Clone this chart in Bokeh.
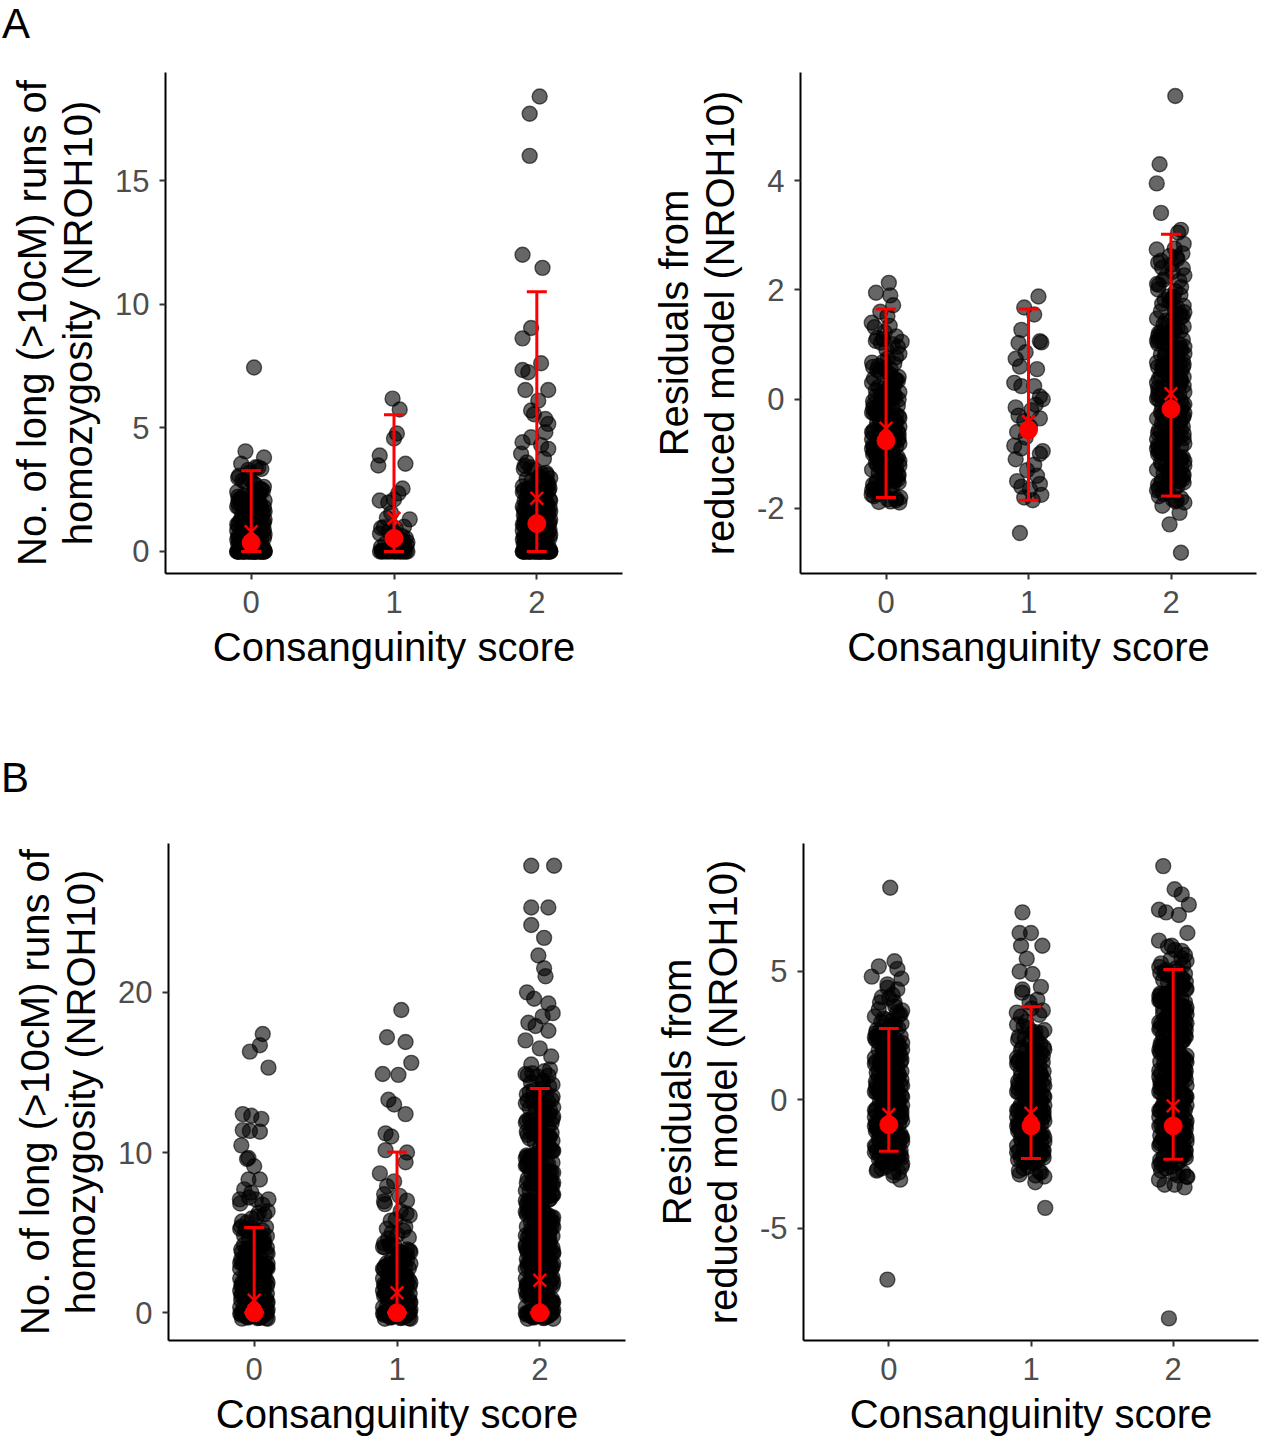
from bokeh.plotting import figure
from bokeh.layouts import row, column
from bokeh.models import Range1d, FixedTicker, PrintfTickFormatter, Div
from bokeh.embed import file_html
from bokeh.resources import INLINE

FONT = "Liberation Sans"
CATS = [0, 1, 2]
X_LABEL = "Consanguinity score"
YLAB_COUNT = "No. of long (>10cM) runs of\nhomozygosity (NROH10)"
YLAB_RESID = "Residuals from\nreduced model (NROH10)"
PANEL_LETTERS = ["A", "B"]

# fixed jitter patterns (like a seeded position_jitter): horizontal offsets in category
# units and within-bin vertical fractions, both reused cyclically
JITTER = [-0.085, 0.032, -0.017, 0.071, -0.052, 0.094, -0.098, 0.012, 0.058, -0.036, 0.083,
          -0.071, 0.003, 0.045, -0.062, 0.026, -0.009, 0.089, -0.044, 0.066, -0.091, 0.018]
FRAC = [0.5, 0.12, 0.81, 0.35, 0.67, 0.04, 0.93, 0.28, 0.59, 0.19, 0.74, 0.44, 0.87,
        0.23, 0.63, 0.08, 0.97]

# ---------------- Panel A, left: NROH10 ----------------
A1_TICKS = [0, 5, 10, 15]
A1_ZEROS = [30, 14, 30]                     # individuals exactly at 0
A1_BINS = (0.0, 0.5, 0.5)                   # first bin, step, bin width
A1_COUNTS = [[28, 26, 24, 22, 16, 8, 4],
             [14, 7],
             [28, 27, 26, 24, 22, 15, 8]]
A1_OUT = [
    [(7.44, 0.02), (4.05, -0.04), (3.8, 0.09), (3.55, -0.07), (3.4, 0.05), (3.3, -0.02)],
    [(6.18, -0.01), (5.74, 0.04), (4.77, 0.02), (4.57, 0.0), (3.88, -0.1), (3.48, -0.11),
     (3.55, 0.08), (2.55, 0.06), (2.35, 0.03), (2.06, -0.1), (1.98, -0.04), (2.1, 0.0),
     (1.55, -0.02), (1.3, 0.11), (1.35, -0.05), (1.0, 0.07), (0.95, -0.09)],
    [(18.4, 0.02), (17.7, -0.05), (16.0, -0.05), (12.0, -0.1), (11.47, 0.04), (9.04, -0.04),
     (8.62, -0.1), (7.61, 0.03), (7.34, -0.1), (7.25, -0.06), (6.53, -0.08), (6.53, 0.08),
     (6.1, 0.01), (5.7, -0.04), (5.36, 0.06), (5.16, 0.08), (4.82, 0.06), (4.62, -0.04),
     (4.42, -0.1), (3.95, -0.11), (4.15, 0.08), (5.55, -0.02), (4.3, 0.03), (3.75, 0.05),
     (3.6, -0.07)],
]
A1_MEAN = [0.8, 1.34, 2.15]
A1_MEDIAN = [0.36, 0.53, 1.13]
A1_LO = [0, 0, 0]
A1_HI = [3.27, 5.53, 10.5]

# ---------------- Panel A, right: residuals ----------------
A2_TICKS = [-2, 0, 2, 4]
A2_ZEROS = [0, 0, 0]
A2_BINS = (-1.9, 0.25, 0.25)
A2_COUNTS = [[8, 16, 18, 19, 19, 19, 18, 16, 13, 10, 7, 5, 3],
             [],
             [8, 15, 17, 17, 17, 17, 17, 17, 17, 16, 15, 14, 12, 10, 8, 7, 6, 5, 3]]
A2_OUT = [
    [(2.13, 0.02), (1.95, -0.07), (1.9, 0.03), (1.72, 0.05), (1.6, -0.04), (1.52, 0.01),
     (1.4, -0.1), (1.32, -0.08), (1.15, 0.07), (1.05, 0.11), (1.1, -0.02), (-1.85, 0.07),
     (-1.88, -0.05), (-1.8, 0.1), (-1.75, -0.1)],
    [(1.88, 0.07), (1.68, -0.03), (1.55, 0.04), (1.27, -0.05), (1.06, 0.08), (1.04, 0.09),
     (1.03, -0.07), (0.86, -0.02), (0.74, -0.09), (0.6, -0.06), (0.3, -0.1), (0.24, -0.05),
     (0.24, 0.04), (0.05, 0.08), (0.0, 0.1), (-0.1, 0.05), (-0.3, -0.07), (-0.35, 0.08),
     (-0.5, 0.01), (-0.6, -0.08), (-0.7, -0.02), (-0.85, -0.1), (-0.9, -0.05), (-1.0, 0.08),
     (-1.2, 0.04), (-1.3, -0.01), (-1.5, -0.08), (-1.55, 0.08), (-1.6, -0.05), (-1.65, 0.01),
     (-1.75, 0.09), (-1.8, -0.03), (-1.85, 0.03), (-2.45, -0.06), (-0.15, -0.09), (0.55, 0.06),
     (-1.1, -0.09), (-0.95, 0.1), (-0.4, -0.03), (-1.4, 0.06), (-0.2, 0.02)],
    [(5.55, 0.03), (4.3, -0.08), (3.95, -0.1), (3.41, -0.07), (3.1, 0.07), (3.05, 0.05),
     (2.74, -0.1), (2.67, 0.08), (2.5, -0.09), (2.6, 0.04), (-2.08, 0.06), (-2.29, -0.01),
     (-2.81, 0.07), (-1.95, -0.06), (-1.85, 0.04)],
]
A2_MEAN = [-0.53, -0.41, 0.10]
A2_MEDIAN = [-0.76, -0.56, -0.18]
A2_LO = [-1.80, -1.85, -1.77]
A2_HI = [1.65, 1.65, 3.02]

# ---------------- Panel B, left: NROH10 (integer counts, vertically jittered) ----------------
B1_TICKS = [0, 10, 20]
B1_ZEROS = [0, 0, 0]
B1_BINS = (-0.4, 1.0, 0.8)
B1_COUNTS = [[36, 30, 27, 24, 21, 15, 7, 4],
             [34, 28, 24, 19, 13, 7, 5, 3],
             [32, 29, 27, 26, 25, 24, 23, 22, 22, 21, 20, 19, 17, 14, 9, 5]]
B1_OUT = [
    [(17.4, 0.06), (16.7, 0.04), (16.3, -0.03), (15.3, 0.1), (12.4, -0.08), (12.3, -0.02),
     (12.1, 0.05), (11.4, -0.08), (11.35, -0.03), (11.3, 0.04), (10.45, -0.09), (9.66, -0.04),
     (9.6, -0.05), (9.15, 0.0), (8.32, -0.04), (8.32, 0.04), (7.7, -0.07), (7.08, 0.1),
     (7.08, -0.1), (7.5, -0.02)],
    [(18.9, 0.03), (17.2, -0.07), (16.9, 0.06), (15.6, 0.1), (14.9, -0.1), (14.85, 0.01),
     (13.3, -0.06), (13.0, -0.02), (12.4, 0.06), (11.2, -0.08), (11.0, -0.04), (10.15, -0.08),
     (10.0, 0.07), (9.4, 0.06), (8.7, -0.12), (7.9, -0.07), (7.0, 0.07), (8.2, -0.02),
     (7.4, -0.09)],
    [(27.9, -0.06), (27.9, 0.1), (25.3, -0.06), (25.3, 0.06), (24.2, -0.06), (23.4, 0.03),
     (22.3, -0.01), (21.5, 0.03), (21.0, 0.04), (20.0, -0.09), (19.6, -0.04), (19.3, 0.06),
     (18.7, 0.09), (18.5, 0.02), (18.1, -0.08), (17.9, -0.03), (17.6, 0.06), (17.0, -0.1),
     (16.5, 0.0), (16.0, 0.08), (15.5, -0.06), (14.9, -0.1), (14.8, 0.06), (14.5, 0.02),
     (13.8, -0.07), (13.5, 0.09)],
]
B1_MEAN = [0.78, 1.25, 2.03]
B1_MEDIAN = [0, 0, 0]
B1_LO = [0, 0, 0]
B1_HI = [5.32, 10.03, 14.0]

# ---------------- Panel B, right: residuals ----------------
B2_TICKS = [-5, 0, 5]
B2_ZEROS = [0, 0, 0]
B2_BINS = (-3.0, 0.5, 0.5)
B2_COUNTS = [[5, 15, 19, 20, 20, 20, 20, 19, 18, 17, 15, 12, 9, 4, 2, 1],
             [6, 16, 19, 20, 20, 20, 19, 18, 16, 13, 10, 7, 4, 2, 1],
             [8, 17, 20, 20, 20, 20, 20, 20, 20, 19, 19, 18, 18, 17, 16, 13, 8, 4]]
B2_OUT = [
    [(8.26, 0.01), (-6.99, -0.01), (5.4, 0.04), (5.2, -0.07), (5.1, 0.06), (4.8, -0.12),
     (4.5, -0.01), (4.3, 0.06), (4.0, -0.05), (3.8, 0.04), (-2.7, -0.08), (-3.1, 0.08),
     (-2.6, 0.09), (-2.8, 0.03)],
    [(7.3, -0.06), (6.5, -0.08), (6.5, 0.0), (6.0, -0.07), (6.0, 0.08), (5.5, -0.03),
     (5.0, -0.08), (4.9, 0.01), (4.3, -0.06), (4.4, 0.07), (3.8, -0.01), (3.4, -0.1),
     (-3.2, 0.03), (-4.2, 0.1), (-2.9, -0.08), (-2.8, 0.06)],
    [(9.1, -0.07), (8.2, 0.01), (8.0, 0.06), (7.6, 0.11), (7.4, -0.1), (7.3, -0.05), (7.2, 0.04),
     (6.5, 0.1), (6.2, -0.1), (6.0, -0.01), (5.8, 0.06), (-3.3, -0.06), (-3.4, 0.08),
     (-3.3, 0.01), (-8.5, -0.03), (-3.1, -0.1), (-3.0, 0.1)],
]
B2_MEAN = [-0.57, -0.52, -0.23]
B2_MEDIAN = [-0.96, -1.01, -1.01]
B2_LO = [-2.0, -2.28, -2.31]
B2_HI = [2.78, 3.63, 5.08]


def cloud(zeros, bins, counts, out):
    start, step, width = bins
    xs, ys = [], []
    for g in CATS:
        idx = 0
        for _ in range(zeros[g]):
            xs.append(g + JITTER[idx % len(JITTER)])
            ys.append(0.0)
            idx += 1
        for i, n in enumerate(counts[g]):
            lo = start + i * step
            for _ in range(n):
                xs.append(g + JITTER[idx % len(JITTER)])
                ys.append(lo + width * FRAC[idx % len(FRAC)])
                idx += 1
        for v, dx in out[g]:
            xs.append(g + dx)
            ys.append(v)
    return xs, ys


def panel(zeros, bins, counts, out, mean, median, lo, hi, yr, ticks, ylabel,
          width, height, left, right, top, bottom):
    p = figure(width=width, height=height,
               min_border_left=left, min_border_right=right,
               min_border_top=top, min_border_bottom=bottom,
               x_range=Range1d(-0.6, 2.6), y_range=Range1d(*yr),
               output_backend="svg", toolbar_location=None, tools="")
    p.outline_line_color = None
    p.background_fill_color = "white"
    p.border_fill_color = "white"
    p.xgrid.visible = False
    p.ygrid.visible = False

    xs, ys = cloud(zeros, bins, counts, out)
    p.scatter(xs, ys, size=15, fill_color="black", fill_alpha=0.6,
              line_color="black", line_alpha=0.6, line_width=1.4)

    red = "#FF0000"
    p.segment(x0=CATS, y0=lo, x1=CATS, y1=hi, line_color=red, line_width=3)
    p.segment(x0=[c - 0.07 for c in CATS], y0=hi, x1=[c + 0.07 for c in CATS], y1=hi,
              line_color=red, line_width=3)
    p.segment(x0=[c - 0.07 for c in CATS], y0=lo, x1=[c + 0.07 for c in CATS], y1=lo,
              line_color=red, line_width=3)
    p.scatter(CATS, mean, marker="x", size=18, line_color=red, line_width=2.5)
    p.scatter(CATS, median, marker="circle", size=18, fill_color=red, line_color=red)

    for ax in (p.xaxis, p.yaxis):
        ax.axis_line_color = "black"
        ax.axis_line_width = 2
        ax.major_tick_line_color = "#333333"
        ax.major_tick_line_width = 2
        ax.major_tick_out = 6
        ax.major_tick_in = 0
        ax.minor_tick_line_color = None
        ax.major_label_text_font = FONT
        ax.major_label_text_font_size = "31px"
        ax.major_label_text_color = "#4D4D4D"
        ax.axis_label_text_font = FONT
        ax.axis_label_text_font_size = "40px"
        ax.axis_label_text_font_style = "normal"
        ax.axis_label_text_color = "black"

    p.xaxis.ticker = FixedTicker(ticks=CATS)
    p.yaxis.ticker = FixedTicker(ticks=ticks)
    p.yaxis.formatter = PrintfTickFormatter(format="%d")
    p.xaxis.axis_label = X_LABEL
    p.yaxis.axis_label = ylabel
    p.xaxis.major_label_standoff = 11
    p.xaxis.axis_label_standoff = 9
    p.yaxis.major_label_standoff = 10
    p.yaxis.axis_label_standoff = 12
    p.yaxis.axis_label_text_line_height = 1.05
    return p


def letter_div(text, height, pad_top, pad_left):
    html = ('<div style="font-family:\'%s\';font-size:42px;line-height:1;color:black;'
            'padding-top:%dpx;padding-left:%dpx;margin:0">%s</div>'
            % (FONT, pad_top, pad_left, text))
    return Div(text=html, width=80, height=height, margin=0)


div_a = letter_div(PANEL_LETTERS[0], 48, 3, 2)
pa1 = panel(A1_ZEROS, A1_BINS, A1_COUNTS, A1_OUT, A1_MEAN, A1_MEDIAN, A1_LO, A1_HI,
            (-0.89, 19.37), A1_TICKS, YLAB_COUNT, 640, 675, 165, 18, 24, 150)
pa2 = panel(A2_ZEROS, A2_BINS, A2_COUNTS, A2_OUT, A2_MEAN, A2_MEDIAN, A2_LO, A2_HI,
            (-3.19, 5.98), A2_TICKS, YLAB_RESID, 617, 675, 160, 1, 24, 150)
div_b = letter_div(PANEL_LETTERS[1], 76, 34, 1)
pb1 = panel(B1_ZEROS, B1_BINS, B1_COUNTS, B1_OUT, B1_MEAN, B1_MEDIAN, B1_LO, B1_HI,
            (-1.73, 29.29), B1_TICKS, YLAB_COUNT, 643, 639, 168, 18, 44, 94)
pb2 = panel(B2_ZEROS, B2_BINS, B2_COUNTS, B2_OUT, B2_MEAN, B2_MEDIAN, B2_LO, B2_HI,
            (-9.36, 9.98), B2_TICKS, YLAB_RESID, 616, 639, 160, 1, 44, 94)

layout = column(div_a, row(pa1, pa2), div_b, row(pb1, pb2))
open("out.html", "w").write(file_html(layout, INLINE))
